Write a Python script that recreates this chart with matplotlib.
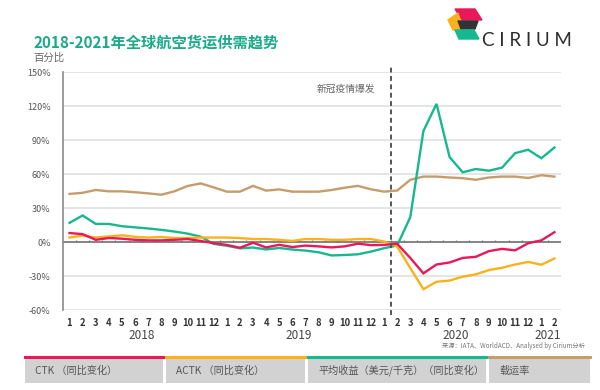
import numpy as np
import matplotlib
matplotlib.use("Agg")
import matplotlib.pyplot as plt
from matplotlib.patches import Rectangle, Polygon
from matplotlib.lines import Line2D
import matplotlib.transforms as mtransforms

plt.rcParams['font.family'] = ['Noto Sans CJK SC', 'DejaVu Sans']

# data ---------------------------------------------------------------
month_labels = ['1', '2', '3', '4', '5', '6', '7', '8', '9', '10', '11', '12',
                '1', '2', '3', '4', '5', '6', '7', '8', '9', '10', '11', '12',
                '1', '2', '3', '4', '5', '6', '7', '8', '9', '10', '11', '12',
                '1', '2']
month_years = ['2018'] * 12 + ['2019'] * 12 + ['2020'] * 12 + ['2021'] * 2
year_labels = ['2018', '2019', '2020', '2021']

ctk = [8, 7, 2, 3.6, 3, 2, 1.5, 1.5, 2, 2.7, 1, -1,
       -2.5, -5, -0.6, -4.7, -2.4, -4.4, -3.1, -3.8, -4.7, -3.8, -1.4, -2.7,
       -2.5, -1.5, -14, -27.6, -19.8, -18, -14, -13, -8, -6, -7.3, -1, 1.5, 8.7]
actk = [4, 5.7, 4, 5, 6, 4.5, 4, 4.5, 3.6, 3.6, 4, 4,
        4, 3.5, 2.7, 2.7, 2, 1, 2.7, 2.7, 2, 2, 2.7, 2.7,
        0.5, -4, -23, -41.6, -35, -34, -30.5, -28.5, -24.7, -22.7, -19.8, -17.5, -20, -14.5]
yield_chg = [17, 23.5, 16, 16, 14, 13, 12, 10.8, 9.3, 7.5, 4.8, -1.6,
             -3.2, -5.5, -4.8, -6.5, -5.2, -6.6, -7.5, -9, -11.8, -11.4, -10.8, -8.4,
             -5.4, -3, 22, 98, 122, 75, 61.6, 64.5, 63, 65.7, 78.5, 81.5, 74, 83.5]
load_factor = [42.5, 43.5, 46, 44.8, 44.8, 44, 43, 41.8, 44.8, 49.5, 51.8, 48.3,
               44.5, 44.5, 49.6, 45.4, 46.5, 44.5, 44.5, 44.5, 46, 48, 49.6, 46.6,
               44.5, 45.5, 55, 57.8, 57.8, 57, 56.4, 55, 57, 57.8, 57.8, 56.6, 59, 57.8]

series_names = ['CTK （同比变化）', 'ACTK （同比变化）', '平均收益（美元/千克）（同比变化）', '载运率']
series_colors = ['#e8185a', '#f9b21b', '#17b890', '#c69c6d']
covid_month = 24.5  # between Jan and Feb 2020

yticks = [-60, -30, 0, 30, 60, 90, 120, 150]

# plot ---------------------------------------------------------------
fig = plt.figure(figsize=(6, 3.9), dpi=100)
ax = fig.add_axes([0.105, 0.205, 0.83, 0.61])

x = np.arange(len(month_labels))

for yt in yticks:
    if yt == 0:
        ax.axhline(yt, color='#7a7a7a', lw=1.3, zorder=2)
    else:
        ax.axhline(yt, color='#e0e0e0', lw=1.2, zorder=1)

# small month separators on the zero line
ax.vlines(x[:-1] + 0.5, 0, 2.2, color='#7a7a7a', lw=0.9, zorder=2)

for vals, c in zip([load_factor, yield_chg, actk, ctk],
                   [series_colors[3], series_colors[2], series_colors[1], series_colors[0]]):
    ax.plot(x, vals, color=c, lw=1.7, zorder=3, solid_joinstyle='miter')

ax.axvline(covid_month, ymin=-0.02, ymax=1.02, color='#555555', lw=1.4,
           linestyle=(0, (2.5, 1.8)), clip_on=False, zorder=4)
ax.text(covid_month - 1.2, 135, '新冠疫情爆发', ha='right', va='center',
        fontsize=7, color='#666666')

ax.set_xlim(-0.5, 37.5)
ax.set_ylim(-60, 150)
ax.set_yticks(yticks)
ax.set_yticklabels([f'{v}%' for v in yticks])
ax.set_xticks(x)
ax.set_xticklabels(month_labels)
ax.tick_params(axis='y', length=0, pad=9, labelsize=6.5, labelcolor='#555555')
ax.tick_params(axis='x', length=0, pad=6, labelsize=6.8, labelcolor='#333333')
for lbl in ax.get_xticklabels():
    lbl.set_fontweight('bold')

for s in ['top', 'right', 'bottom']:
    ax.spines[s].set_visible(False)
ax.spines['left'].set_color('#8a8a8a')
ax.spines['left'].set_linewidth(1.2)

# year labels under the months
trans = mtransforms.blended_transform_factory(ax.transData, ax.transAxes)
for yr in year_labels:
    idx = [i for i, y in enumerate(month_years) if y == yr]
    ax.text(np.mean(idx), -0.105, yr, transform=trans, ha='center', va='center',
            fontsize=8.5, color='#444444')

# titles
fig.text(0.055, 0.892, '2018-2021年全球航空货运供需趋势', fontsize=11,
         fontweight='bold', color='#1aaa8a', va='center')
fig.text(0.055, 0.851, '百分比', fontsize=7.5, color='#666666', va='center')

# source
fig.text(0.975, 0.112, '来源：IATA、WorldACD、Analysed by Cirium分析', fontsize=4.5,
         color='#777777', ha='right', va='center')

# legend boxes
box_x = [0.042, 0.277, 0.513, 0.815]
box_w = [0.230, 0.231, 0.297, 0.168]
for bx, bw, name, c in zip(box_x, box_w, series_names, series_colors):
    fig.add_artist(Rectangle((bx, 0.018), bw, 0.067, transform=fig.transFigure,
                             facecolor='#d2d2d2', edgecolor='none'))
    fig.add_artist(Line2D([bx, bx + bw], [0.085, 0.085], transform=fig.transFigure,
                          color=c, lw=2.2))
    fig.text(bx + 0.017, 0.05, name, fontsize=7.3, color='#555555', va='center')

# logo
def px(pts):
    return [(a / 600, 1 - b / 390) for a, b in pts]

fig.add_artist(Polygon(px([(455, 9), (475, 9), (482, 20), (462, 20)]),
                       transform=fig.transFigure, color='#e8185a'))
fig.add_artist(Polygon(px([(448, 20), (458, 13), (463, 30), (453, 30)]),
                       transform=fig.transFigure, color='#f9b21b'))
fig.add_artist(Polygon(px([(458, 21), (478, 21), (475, 29), (461, 29)]),
                       transform=fig.transFigure, color='#333333'))
fig.add_artist(Polygon(px([(455, 30), (474, 30), (479, 39), (459, 39)]),
                       transform=fig.transFigure, color='#17b890'))
fig.text(0.803, 0.897, 'C I R I U M', fontsize=13.5, color='#2e2e2e', va='center',
         family=['Lato', 'DejaVu Sans'])

plt.savefig('out.png', dpi=100)
